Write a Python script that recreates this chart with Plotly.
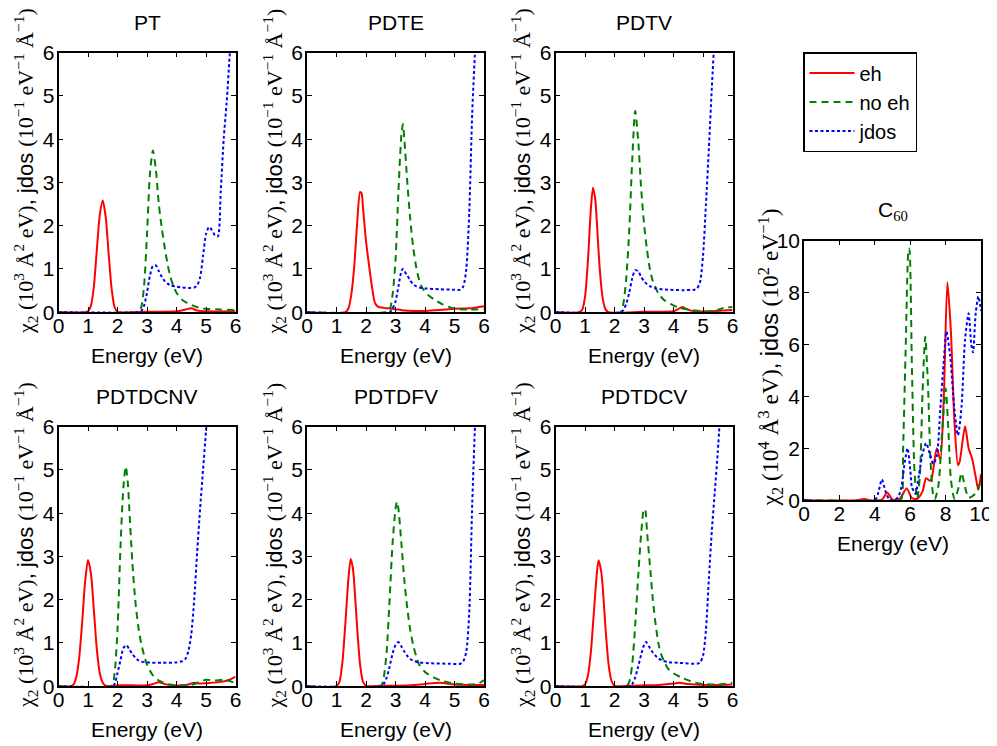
import plotly.graph_objects as go

# ---------------- data ----------------
PANEL_NAMES = ["PT", "PDTE", "PDTV", "PDTDCNV", "PDTDFV", "PDTDCV", "C<sub>60</sub>"]
SERIES_NAMES = ["eh", "no eh", "jdos"]

# PT
PT_EH_E = [0, 0.9, 1.0, 1.1, 1.2, 1.3, 1.4, 1.5, 1.6, 1.7, 1.8, 1.9, 2.0, 3.0, 4.0, 4.3, 4.5, 4.7, 5.0, 6.0]
PT_EH = [0, 0, 0.02, 0.15, 0.6, 1.45, 2.25, 2.58, 2.2, 1.35, 0.55, 0.12, 0.01, 0.01, 0.02, 0.06, 0.09, 0.04, 0.02, 0.02]
PT_NOEH_E = [0, 2.7, 2.8, 2.9, 3.0, 3.1, 3.2, 3.3, 3.4, 3.5, 3.6, 3.7, 3.8, 3.9, 4.0, 4.2, 4.4, 4.6, 4.8, 5.0, 5.5, 6.0]
PT_NOEH = [0, 0, 0.1, 0.6, 1.8, 3.2, 3.74, 3.3, 2.5, 1.95, 1.5, 1.1, 0.8, 0.6, 0.45, 0.28, 0.2, 0.14, 0.1, 0.08, 0.06, 0.05]
PT_JDOS_E = [0, 2.7, 2.8, 2.9, 3.0, 3.1, 3.2, 3.3, 3.4, 3.5, 3.6, 3.7, 3.8, 4.0, 4.2, 4.4, 4.6, 4.7, 4.8, 4.9, 5.0, 5.1, 5.2, 5.3, 5.4, 5.5, 5.6, 5.7, 5.8, 5.9, 6.0]
PT_JDOS = [0, 0, 0.02, 0.15, 0.45, 0.85, 1.07, 1.08, 0.95, 0.82, 0.72, 0.66, 0.62, 0.59, 0.57, 0.56, 0.57, 0.62, 0.8, 1.3, 1.8, 1.97, 1.9, 1.78, 1.75, 2.8, 4.0, 4.85, 5.9, 7.0, 8.0]

# PDTE
PDTE_EH_E = [0, 1.3, 1.4, 1.5, 1.6, 1.7, 1.8, 1.85, 1.9, 2.0, 2.1, 2.2, 2.3, 2.4, 2.6, 2.8, 3.0, 3.3, 3.6, 4.0, 4.5, 5.0, 5.5, 6.0]
PDTE_EH = [0, 0, 0.08, 0.4, 1.05, 2.05, 2.78, 2.75, 2.4, 1.65, 1.1, 0.6, 0.22, 0.13, 0.1, 0.09, 0.07, 0.04, 0.03, 0.03, 0.05, 0.08, 0.09, 0.14]
PDTE_NOEH_E = [0, 2.7, 2.8, 2.9, 3.0, 3.1, 3.2, 3.25, 3.3, 3.4, 3.5, 3.6, 3.7, 3.8, 3.9, 4.1, 4.3, 4.6, 5.0, 5.5, 6.0]
PDTE_NOEH = [0, 0, 0.05, 0.4, 1.2, 2.8, 4.1, 4.35, 4.0, 3.0, 2.15, 1.5, 1.05, 0.75, 0.57, 0.4, 0.3, 0.18, 0.08, 0.06, 0.08]
PDTE_JDOS_E = [0, 2.8, 2.9, 3.0, 3.1, 3.2, 3.25, 3.3, 3.4, 3.5, 3.6, 3.7, 3.8, 4.0, 4.5, 5.0, 5.2, 5.3, 5.4, 5.5, 5.6, 5.7, 5.8]
PDTE_JDOS = [0, 0, 0.08, 0.25, 0.6, 0.95, 1.0, 0.95, 0.85, 0.73, 0.65, 0.6, 0.57, 0.55, 0.53, 0.52, 0.52, 0.6, 1.0, 2.3, 4.6, 6.1, 7.5]

# PDTV
PDTV_EH_E = [0, 0.8, 0.9, 1.0, 1.1, 1.2, 1.27, 1.35, 1.4, 1.5, 1.6, 1.7, 1.8, 3.0, 4.0, 4.15, 4.3, 4.45, 4.7, 5.5, 6.0]
PDTV_EH = [0, 0, 0.05, 0.35, 1.2, 2.4, 2.88, 2.6, 2.1, 1.0, 0.32, 0.06, 0.0, 0.01, 0.02, 0.07, 0.12, 0.07, 0.02, 0.03, 0.05]
PDTV_NOEH_E = [0, 2.2, 2.3, 2.4, 2.5, 2.6, 2.7, 2.8, 2.9, 3.0, 3.1, 3.2, 3.3, 3.5, 3.7, 3.9, 4.2, 4.5, 5.0, 5.4, 5.7, 6.0]
PDTV_NOEH = [0, 0, 0.2, 0.8, 1.9, 3.5, 4.65, 4.0, 2.9, 2.05, 1.45, 1.0, 0.72, 0.42, 0.27, 0.19, 0.1, 0.06, 0.02, 0.03, 0.1, 0.12]
PDTV_JDOS_E = [0, 2.2, 2.3, 2.4, 2.5, 2.6, 2.7, 2.8, 2.9, 3.0, 3.1, 3.2, 3.4, 3.8, 4.3, 4.7, 4.8, 4.9, 5.0, 5.1, 5.2, 5.3, 5.4, 5.5]
PDTV_JDOS = [0, 0, 0.05, 0.2, 0.45, 0.78, 0.97, 0.95, 0.82, 0.72, 0.65, 0.6, 0.55, 0.52, 0.51, 0.52, 0.55, 0.7, 1.3, 2.5, 3.8, 5.2, 6.5, 7.8]

# PDTDCNV
PDTDCNV_EH_E = [0, 0.4, 0.5, 0.6, 0.7, 0.8, 0.9, 1.0, 1.1, 1.2, 1.3, 1.4, 1.5, 1.6, 1.8, 2.0, 2.5, 3.0, 3.2, 3.4, 3.6, 3.8, 4.2, 4.4, 4.6, 4.8, 5.0, 5.5, 5.8, 6.0]
PDTDCNV_EH = [0, 0, 0.03, 0.2, 0.65, 1.45, 2.4, 2.92, 2.6, 1.75, 0.85, 0.3, 0.08, 0.01, 0.0, 0.02, 0.02, 0.02, 0.05, 0.09, 0.05, 0.02, 0.02, 0.04, 0.08, 0.06, 0.07, 0.1, 0.15, 0.22]
PDTDCNV_NOEH_E = [0, 1.8, 1.9, 2.0, 2.1, 2.2, 2.28, 2.35, 2.4, 2.5, 2.6, 2.7, 2.8, 2.9, 3.0, 3.2, 3.4, 3.7, 4.0, 4.5, 4.8, 5.0, 5.3, 5.6, 6.0]
PDTDCNV_NOEH = [0, 0, 0.3, 1.3, 3.2, 4.6, 5.08, 4.7, 4.1, 2.9, 2.0, 1.4, 1.0, 0.72, 0.5, 0.25, 0.13, 0.05, 0.02, 0.03, 0.1, 0.15, 0.13, 0.15, 0.07]
PDTDCNV_JDOS_E = [0, 1.8, 1.9, 2.0, 2.1, 2.2, 2.3, 2.4, 2.5, 2.6, 2.7, 2.8, 3.0, 3.5, 4.0, 4.2, 4.3, 4.4, 4.5, 4.6, 4.7, 4.8, 4.9, 5.0, 5.1]
PDTDCNV_JDOS = [0, 0, 0.05, 0.3, 0.6, 0.88, 0.95, 0.85, 0.75, 0.66, 0.6, 0.57, 0.55, 0.54, 0.55, 0.58, 0.63, 0.8, 1.2, 2.0, 3.1, 4.1, 5.0, 5.9, 6.8]

# PDTDFV
PDTDFV_EH_E = [0, 1.0, 1.1, 1.2, 1.3, 1.4, 1.48, 1.55, 1.6, 1.7, 1.8, 1.9, 2.0, 2.5, 3.0, 3.5, 4.0, 4.5, 5.0, 5.5, 6.0]
PDTDFV_EH = [0, 0, 0.1, 0.55, 1.45, 2.45, 2.94, 2.75, 2.4, 1.35, 0.5, 0.1, 0.01, 0.01, 0.01, 0.02, 0.05, 0.08, 0.04, 0.03, 0.03]
PDTDFV_NOEH_E = [0, 2.5, 2.6, 2.7, 2.8, 2.9, 3.0, 3.05, 3.1, 3.2, 3.3, 3.4, 3.5, 3.6, 3.7, 3.8, 4.0, 4.3, 4.6, 5.0, 5.5, 5.8, 6.0]
PDTDFV_NOEH = [0, 0, 0.2, 0.8, 2.0, 3.3, 4.1, 4.27, 4.1, 3.3, 2.45, 1.8, 1.3, 0.95, 0.7, 0.5, 0.33, 0.2, 0.12, 0.06, 0.04, 0.06, 0.14]
PDTDFV_JDOS_E = [0, 2.5, 2.6, 2.7, 2.8, 2.9, 3.0, 3.1, 3.2, 3.3, 3.4, 3.5, 3.6, 3.8, 4.2, 4.8, 5.2, 5.3, 5.4, 5.5, 5.6, 5.7, 5.8]
PDTDFV_JDOS = [0, 0, 0.05, 0.2, 0.45, 0.75, 0.95, 1.02, 0.92, 0.8, 0.7, 0.63, 0.59, 0.55, 0.53, 0.52, 0.52, 0.58, 0.8, 1.7, 4.2, 6.1, 7.5]

# PDTDCV
PDTDCV_EH_E = [0, 0.9, 1.0, 1.1, 1.2, 1.3, 1.4, 1.46, 1.55, 1.6, 1.7, 1.8, 1.9, 2.0, 2.5, 3.0, 3.5, 4.0, 4.2, 4.5, 5.0, 5.5, 6.0]
PDTDCV_EH = [0, 0, 0.04, 0.25, 0.8, 1.7, 2.6, 2.91, 2.65, 2.3, 1.3, 0.5, 0.12, 0.01, 0.01, 0.02, 0.03, 0.06, 0.08, 0.05, 0.03, 0.03, 0.04]
PDTDCV_NOEH_E = [0, 2.4, 2.5, 2.6, 2.7, 2.8, 2.9, 3.0, 3.05, 3.1, 3.2, 3.3, 3.4, 3.5, 3.6, 3.7, 3.8, 4.0, 4.3, 4.7, 5.0, 5.5, 6.0]
PDTDCV_NOEH = [0, 0, 0.1, 0.5, 1.4, 2.5, 3.5, 4.1, 4.05, 3.6, 2.8, 2.0, 1.4, 0.95, 0.7, 0.55, 0.42, 0.3, 0.19, 0.09, 0.05, 0.04, 0.08]
PDTDCV_JDOS_E = [0, 2.5, 2.6, 2.7, 2.8, 2.9, 3.0, 3.06, 3.1, 3.2, 3.3, 3.4, 3.5, 3.6, 3.8, 4.2, 4.8, 4.9, 5.0, 5.1, 5.2, 5.3, 5.4, 5.5, 5.6]
PDTDCV_JDOS = [0, 0, 0.05, 0.2, 0.45, 0.72, 0.95, 1.02, 1.0, 0.88, 0.78, 0.7, 0.64, 0.6, 0.56, 0.54, 0.52, 0.55, 0.7, 1.3, 2.5, 3.6, 4.5, 5.4, 6.5]

# C60
C60_EH_E = [0, 3.0, 3.4, 3.7, 4.4, 4.7, 5.0, 5.4, 5.8, 6.1, 6.4, 6.7, 6.9, 7.1, 7.2, 7.5, 7.7, 7.9, 8.1, 8.3, 8.5, 8.7, 8.8, 9.1, 9.3, 9.5, 9.7, 9.85, 10.0]
C60_EH = [0, 0, 0.05, 0.0, 0.02, 0.3, 0.02, 0.05, 0.45, 0.08, 0.05, 0.35, 0.85, 0.75, 0.8, 2.0, 1.55, 4.0, 8.4, 6.5, 3.0, 1.35, 1.5, 2.85, 2.0, 1.6, 0.9, 0.4, 1.0]
C60_NOEH_E = [0, 5.3, 5.5, 5.6, 5.75, 5.9, 5.95, 6.1, 6.25, 6.4, 6.55, 6.7, 6.85, 7.0, 7.15, 7.3, 7.4, 7.6, 7.8, 8.0, 8.15, 8.3, 8.5, 8.7, 8.9, 9.1, 9.3, 9.6, 9.8, 10.0]
C60_NOEH = [0, 0, 0.05, 2.0, 6.0, 9.6, 9.7, 5.0, 1.0, 0.05, 1.0, 4.2, 6.3, 4.5, 1.5, 0.2, 0.05, 0.6, 2.6, 4.3, 2.8, 0.8, 0.05, 0.4, 1.05, 0.5, 0.1, 0.2, 0.4, 0.75]
C60_JDOS_E = [0, 4.0, 4.2, 4.4, 4.6, 4.8, 5.0, 5.3, 5.5, 5.7, 5.85, 6.0, 6.1, 6.3, 6.5, 6.7, 6.9, 7.1, 7.3, 7.5, 7.7, 7.9, 8.05, 8.25, 8.5, 8.7, 8.9, 9.1, 9.3, 9.45, 9.55, 9.7, 9.85, 10.0]
C60_JDOS = [0, 0, 0.3, 0.8, 0.35, 0.05, 0.0, 0.1, 0.5, 1.5, 2.0, 1.2, 0.5, 0.25, 1.0, 1.8, 2.2, 1.8, 1.4, 1.7, 3.5, 5.4, 6.5, 5.6, 3.5, 2.5, 3.6, 6.2, 7.2, 6.0, 5.7, 7.2, 7.85, 7.3]

PANEL_DATA = [
    [(PT_EH_E, PT_EH), (PT_NOEH_E, PT_NOEH), (PT_JDOS_E, PT_JDOS)],
    [(PDTE_EH_E, PDTE_EH), (PDTE_NOEH_E, PDTE_NOEH), (PDTE_JDOS_E, PDTE_JDOS)],
    [(PDTV_EH_E, PDTV_EH), (PDTV_NOEH_E, PDTV_NOEH), (PDTV_JDOS_E, PDTV_JDOS)],
    [(PDTDCNV_EH_E, PDTDCNV_EH), (PDTDCNV_NOEH_E, PDTDCNV_NOEH), (PDTDCNV_JDOS_E, PDTDCNV_JDOS)],
    [(PDTDFV_EH_E, PDTDFV_EH), (PDTDFV_NOEH_E, PDTDFV_NOEH), (PDTDFV_JDOS_E, PDTDFV_JDOS)],
    [(PDTDCV_EH_E, PDTDCV_EH), (PDTDCV_NOEH_E, PDTDCV_NOEH), (PDTDCV_JDOS_E, PDTDCV_JDOS)],
    [(C60_EH_E, C60_EH), (C60_NOEH_E, C60_NOEH), (C60_JDOS_E, C60_JDOS)],
]

SMALL_TICKS = [0, 1, 2, 3, 4, 5, 6]
C60_TICKS = [0, 2, 4, 6, 8, 10]

# ---------------- layout geometry (pixels in the 997x746 window) ----------------
WIN_W, WIN_H = 997, 746
BODY = 8                      # default page margin around the figure div
W, H = WIN_W - BODY, WIN_H - BODY
COL_LEFT = [58.5, 307.0, 555.5, 804.0]
PW = 177.0
ROW_TOP = [52.7, 426.7]
PH = 259.5
C60_TOP = 240.7

BOXES = [
    (COL_LEFT[0], ROW_TOP[0]), (COL_LEFT[1], ROW_TOP[0]), (COL_LEFT[2], ROW_TOP[0]),
    (COL_LEFT[0], ROW_TOP[1]), (COL_LEFT[1], ROW_TOP[1]), (COL_LEFT[2], ROW_TOP[1]),
    (COL_LEFT[3], C60_TOP),
]

COLORS = ["#ff0000", "#008000", "#0000ff"]
DASHES = ["solid", "7px,5px", "3px,2.5px"]

SANS = "Liberation Sans"
SERIF = "Liberation Serif"

def px_x(p):
    return (p - BODY) / W

def px_y(p):
    return 1 - (p - BODY) / H

fig = go.Figure()
layout = dict(
    width=W, height=H, autosize=False,
    margin=dict(l=0, r=0, t=0, b=0, pad=0, autoexpand=False),
    paper_bgcolor="white", plot_bgcolor="white",
    template="none",
    showlegend=True,
    legend=dict(
        x=px_x(803), y=px_y(52), xanchor="left", yanchor="top",
        bordercolor="black", borderwidth=1.5, bgcolor="white",
        font=dict(family=SANS, size=20, color="black"),
        tracegroupgap=0, itemwidth=45,
    ),
)

annotations = []
for i, ((left, top), series) in enumerate(zip(BOXES, PANEL_DATA)):
    idx = "" if i == 0 else str(i + 1)
    is_c60 = (i == 6)
    rng = [0, 10] if is_c60 else [0, 6]
    ticks = C60_TICKS if is_c60 else SMALL_TICKS
    axis_common = dict(
        range=rng, tickvals=ticks, ticktext=[str(t) for t in ticks],
        showgrid=False, zeroline=False, showline=True, linecolor="black", linewidth=1.5,
        mirror="ticks", ticks="inside", ticklen=5, tickwidth=1.3, tickcolor="black",
        tickfont=dict(family=SANS, size=21, color="black"),
        fixedrange=True, automargin=False,
    )
    layout["xaxis" + idx] = dict(axis_common, domain=[px_x(left), px_x(left + PW)],
                                 anchor="y" + idx, ticklabelstandoff=-6)
    layout["yaxis" + idx] = dict(axis_common, domain=[px_y(top + PH), px_y(top)],
                                 anchor="x" + idx, ticklabelstandoff=-2)
    for s, ((ex, ey), name) in enumerate(zip(series, SERIES_NAMES)):
        fig.add_trace(go.Scatter(
            x=ex, y=ey, mode="lines", name=name, legendgroup=name,
            showlegend=(i == 0),
            line=dict(color=COLORS[s], width=2, dash=DASHES[s], shape="spline", smoothing=0.7),
            xaxis="x" + idx, yaxis="y" + idx,
        ))
    cx = left + PW / 2
    annotations.append(dict(
        text=PANEL_NAMES[i] if not is_c60 else 'C<sub><span style="font-family:Liberation Serif">60</span></sub>',
        x=px_x(cx), y=px_y(top - 30), xref="paper", yref="paper",
        xanchor="center", yanchor="middle", showarrow=False,
        font=dict(family=SANS, size=21, color="black")))
    annotations.append(dict(
        text="Energy (eV)", x=px_x(cx), y=px_y(top + PH + 43), xref="paper", yref="paper",
        xanchor="center", yanchor="middle", showarrow=False,
        font=dict(family=SANS, size=21, color="black")))
    if is_c60:
        ytxt = ('χ<sub>2</sub> (10<sup>4</sup> Å<sup>3</sup> eV)<span style="font-family:Liberation Sans">, jdos </span>'
                '(10<sup>2</sup> eV<sup>−1</sup>)')
        ycen = top + PH / 2 - 13
        ysize = 23.5
    else:
        ytxt = ('χ<sub>2</sub> (10<sup>3</sup> Å<sup>2</sup> eV)<span style="font-family:Liberation Sans">, jdos </span>'
                '(10<sup>−1</sup> eV<sup>−1</sup> Å<sup>−1</sup>)')
        ycen = top + PH / 2 - 11
        ysize = 22
    annotations.append(dict(
        text=ytxt, x=px_x(left - 33), y=px_y(ycen), xref="paper", yref="paper",
        xanchor="center", yanchor="middle", showarrow=False, textangle=-90,
        font=dict(family=SERIF, size=ysize, color="black")))

layout["annotations"] = annotations
fig.update_layout(**layout)
fig.write_html("out.html")
